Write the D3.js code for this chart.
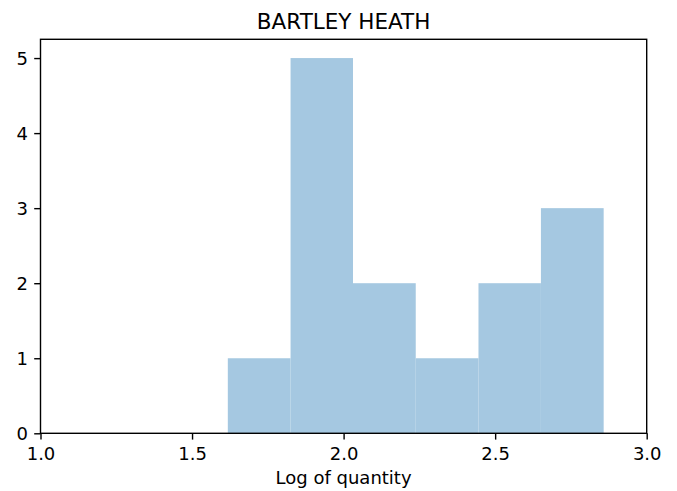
<!DOCTYPE html>
<html>
<head>
<meta charset="utf-8">
<script src="https://cdn.jsdelivr.net/npm/d3@7"></script>
<style>
  body { margin: 0; background: #fff; }
  svg text { font-family: "DejaVu Sans", sans-serif; fill: #000; }
</style>
</head>
<body>
<div class="chart-container"></div>
<script>
const width = 677, height = 491;

// histogram data
const binEdges = [1.618, 1.825, 2.031, 2.238, 2.445, 2.651, 2.858];
const binCounts = [1, 5, 2, 1, 2, 3];
const xTicks = [1.0, 1.5, 2.0, 2.5, 3.0];
const yTicks = [0, 1, 2, 3, 4, 5];
const title = "BARTLEY HEATH";
const xLabel = "Log of quantity";

const margin = {left: 40.5, right: 30.3, top: 39.3, bottom: 57.7};

var svg = d3.select(".chart-container")
    .append("svg")
    .attr("width", width)
    .attr("height", height);

var x = d3.scaleLinear()
    .domain([1.0, 3.0])
    .range([margin.left, width - margin.right]);

var y = d3.scaleLinear()
    .domain([0, 5.25])
    .range([height - margin.bottom, margin.top]);

var bins = binCounts.map((c, i) => ({x0: binEdges[i], x1: binEdges[i + 1], count: c}));

// bars
svg.append("g")
    .selectAll("rect")
    .data(bins)
    .enter()
    .append("rect")
    .attr("x", d => x(d.x0))
    .attr("y", d => y(d.count))
    .attr("width", d => x(d.x1) - x(d.x0))
    .attr("height", d => y(0) - y(d.count))
    .attr("fill", "#a5c8e1");

// axes (matplotlib style: outward ticks, text outside)
var xAxis = svg.append("g")
    .attr("transform", "translate(0," + y(0) + ")")
    .call(d3.axisBottom(x).tickValues(xTicks).tickFormat(d3.format(".1f"))
        .tickSize(6.3).tickPadding(6.3));

var yAxis = svg.append("g")
    .attr("transform", "translate(" + x(1.0) + ",0)")
    .call(d3.axisLeft(y).tickValues(yTicks).tickFormat(d3.format("d"))
        .tickSize(6.3).tickPadding(6.3));

[xAxis, yAxis].forEach(a => {
    a.select(".domain").remove();
    a.selectAll(".tick line").attr("stroke", "#000").attr("stroke-width", 1.4);
    a.selectAll(".tick text").style("font-size", "18px").attr("fill", "#000");
});
xAxis.selectAll(".tick text").attr("dy", null).attr("y", 27);
yAxis.selectAll(".tick text").attr("dy", "0.36em");

// frame
svg.append("rect")
    .attr("x", x(1.0))
    .attr("y", y(5.25))
    .attr("width", x(3.0) - x(1.0))
    .attr("height", y(0) - y(5.25))
    .attr("fill", "none")
    .attr("stroke", "#000")
    .attr("stroke-width", 1.4);

// title and label
svg.append("text")
    .attr("x", (x(1.0) + x(3.0)) / 2)
    .attr("y", 28.7)
    .attr("text-anchor", "middle")
    .style("font-size", "21.5px")
    .text(title);

svg.append("text")
    .attr("x", (x(1.0) + x(3.0)) / 2)
    .attr("y", 484)
    .attr("text-anchor", "middle")
    .style("font-size", "18px")
    .text(xLabel);
</script>
</body>
</html>
